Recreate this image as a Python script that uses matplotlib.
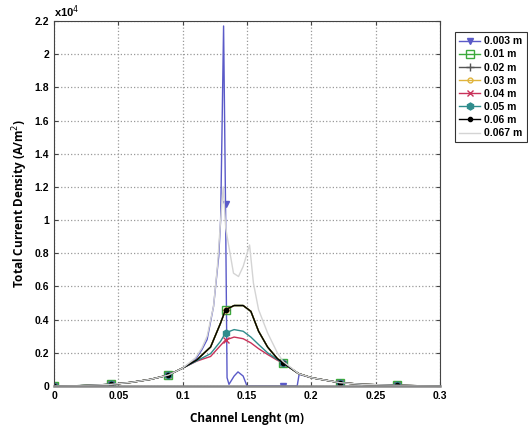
import matplotlib
matplotlib.use("Agg")
import matplotlib.pyplot as plt

# values in units of 1e4 A/m^2
x_mark = [0.0, 0.0444, 0.0889, 0.1333, 0.1778, 0.2222, 0.2667]

# common x grid (includes the marker positions)
x_base = [0.0, 0.02, 0.0444, 0.06, 0.075, 0.0889, 0.1, 0.111, 0.1217, 0.1295, 0.1333,
          0.14, 0.147, 0.153, 0.159, 0.166, 0.1736, 0.1778, 0.19, 0.2, 0.2222, 0.24, 0.2667, 0.28, 0.3]
y_006 = [0.0, 0.002, 0.01, 0.022, 0.04, 0.066, 0.108, 0.157, 0.235, 0.38, 0.46,
         0.485, 0.485, 0.45, 0.33, 0.235, 0.165, 0.14, 0.075, 0.05, 0.02, 0.01, 0.004, 0.002, 0.0]
y_005 = [0.0, 0.002, 0.01, 0.022, 0.04, 0.066, 0.108, 0.152, 0.195, 0.27, 0.32,
         0.34, 0.33, 0.295, 0.25, 0.2, 0.16, 0.14, 0.075, 0.05, 0.02, 0.01, 0.004, 0.002, 0.0]
y_004 = [0.0, 0.0, 0.01, 0.022, 0.04, 0.066, 0.108, 0.15, 0.178, 0.245, 0.277,
         0.295, 0.285, 0.26, 0.225, 0.19, 0.155, 0.14, 0.075, 0.05, 0.02, 0.01, 0.004, 0.002, 0.0]

x_003 = [0.0, 0.02, 0.0444, 0.06, 0.075, 0.0889, 0.1, 0.11, 0.115, 0.119, 0.124, 0.128,
         0.1295, 0.1305, 0.1318, 0.1333, 0.1345, 0.136, 0.14, 0.143, 0.147, 0.15,
         0.1778, 0.189, 0.1905, 0.2, 0.2222, 0.24, 0.2667, 0.28, 0.3]
y_003 = [0.0, 0.002, 0.01, 0.022, 0.04, 0.066, 0.108, 0.16, 0.22, 0.28, 0.48, 0.78,
         1.0, 1.5, 2.17, 1.1, 0.05, 0.01, 0.06, 0.085, 0.06, 0.0,
         0.0, 0.0, 0.07, 0.05, 0.02, 0.01, 0.004, 0.002, 0.0]

x_0067 = [0.0, 0.02, 0.0444, 0.06, 0.075, 0.0889, 0.1, 0.11, 0.115, 0.119, 0.124, 0.127,
          0.1295, 0.1315, 0.1335, 0.1357, 0.1395, 0.1434, 0.147, 0.152, 0.155, 0.159,
          0.166, 0.1736, 0.1778, 0.19, 0.2, 0.2222, 0.24, 0.2667, 0.28, 0.3]
y_0067 = [0.0, 0.002, 0.01, 0.022, 0.04, 0.066, 0.108, 0.17, 0.23, 0.3, 0.48, 0.72,
          1.0, 1.2, 0.95, 0.85, 0.68, 0.66, 0.72, 0.85, 0.62, 0.46,
          0.32, 0.2, 0.15, 0.075, 0.05, 0.02, 0.01, 0.004, 0.002, 0.0]

labels = ["0.003 m", "0.01 m", "0.02 m", "0.03 m", "0.04 m", "0.05 m", "0.06 m", "0.067 m"]
colors = ["#5a5ac8", "#3caa3c", "#555555", "#e0b43c", "#c8325a", "#2f8c8c", "#000000", "#d4d4d4"]

plt.rcParams["font.family"] = ["Liberation Sans", "DejaVu Sans"]
fig = plt.figure(figsize=(5.28, 4.26), dpi=100)
ax = fig.add_axes([54 / 528, 40 / 426, 386 / 528, 365 / 426])


def marks(xs):
    return [i for i, v in enumerate(xs) if v in x_mark]


series = [
    (x_003, y_003, dict(marker="v", mfc=colors[0], ms=5)),
    (x_base, y_006, dict(marker="s", mfc="none", ms=6)),
    (x_base, y_006, dict(marker="+", ms=6)),
    (x_base, y_006, dict(marker="o", mfc="none", ms=3.5)),
    (x_base, y_004, dict(marker="x", ms=5)),
    (x_base, y_005, dict(marker="h", mfc=colors[5], ms=5)),
    (x_base, y_006, dict(marker=".", ms=6)),
    (x_0067, y_0067, dict()),
]
for (xs, ys, kw), lab, c in zip(series, labels, colors):
    ax.plot(xs, ys, color=c, lw=1.0, label=lab, markevery=marks(xs), mec=c, **kw)

ax.set_xlim(0, 0.3)
ax.set_ylim(0, 2.2)
ax.set_xticks([0, 0.05, 0.1, 0.15, 0.2, 0.25, 0.3])
ax.set_xticklabels(["0", "0.05", "0.1", "0.15", "0.2", "0.25", "0.3"])
ax.set_yticks([i * 0.2 for i in range(12)])
ax.set_yticklabels(["0", "0.2", "0.4", "0.6", "0.8", "1", "1.2", "1.4", "1.6", "1.8", "2", "2.2"])
ax.tick_params(direction="in", top=True, right=True, length=3, labelsize=7.5, color="#444444")
for t in ax.get_xticklabels() + ax.get_yticklabels():
    t.set_fontweight("bold")
ax.grid(True, linestyle=":", color="#999999", lw=0.9)
for s in ax.spines.values():
    s.set_color("#444444")
ax.spines["bottom"].set_linewidth(1.8)
ax.spines["bottom"].set_color("#888888")

ax.text(0.0, 1.003, r"x10$^4$", transform=ax.transAxes, fontsize=8,
        fontweight="bold", va="bottom", ha="left")
ax.set_xlabel("Channel Lenght (m)", fontsize=8.5, fontweight="bold", family="Open Sans", labelpad=8)
ax.set_ylabel("Total Current Density (A/m$^2$)", fontsize=8.5, fontweight="bold",
              family="Open Sans", labelpad=3)

leg = fig.legend(loc="upper left", bbox_to_anchor=(450 / 528, 1 - 27 / 426),
                 prop={"weight": "bold", "size": 7.5}, handlelength=2.0, handletextpad=0.4,
                 borderpad=0.4, labelspacing=0.3, fancybox=False, framealpha=1)
leg.get_frame().set_edgecolor("#333333")
leg.get_frame().set_linewidth(0.8)

fig.savefig("out.png", dpi=100)
